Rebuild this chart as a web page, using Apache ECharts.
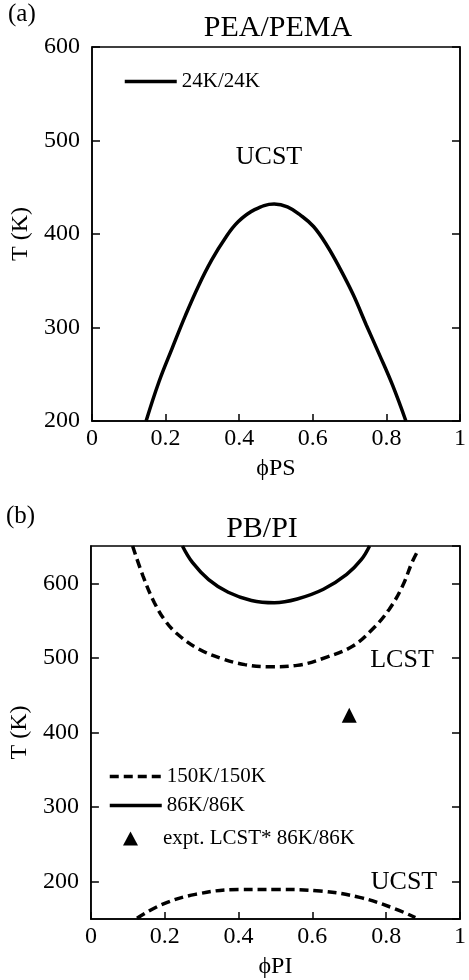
<!DOCTYPE html>
<html>
<head>
<meta charset="utf-8">
<script src="https://cdn.jsdelivr.net/npm/echarts@6/dist/echarts.min.js"></script>
<style>
  html, body { margin: 0; padding: 0; background: #fff; }
  #chart { width: 469px; height: 980px; }
</style>
</head>
<body>
<div id="chart"></div>
<script>
// (a) PEA/PEMA, 24K/24K: UCST binodal
const phiPS = [0.147, 0.182, 0.218, 0.254, 0.29, 0.325, 0.361, 0.397, 0.442, 0.495, 0.531, 0.567, 0.602, 0.638, 0.674, 0.71, 0.745, 0.781, 0.817, 0.853];
const tPEA  = [200, 242, 278, 313, 345, 372, 395, 413, 426, 432, 429, 420, 408, 388, 363, 335, 303, 271, 238, 200];

// (b) PB/PI, 86K/86K: LCST branch
const phiPI86 = [0.248, 0.275, 0.319, 0.372, 0.435, 0.497, 0.559, 0.63, 0.693, 0.733, 0.755];
const tPI86   = [650, 628, 605, 588, 577, 574, 579, 592, 612, 632, 650];

// (b) PB/PI, 150K/150K: LCST branch
const phiPI150L = [0.113, 0.141, 0.172, 0.204, 0.239, 0.292, 0.355, 0.417, 0.488, 0.559, 0.639, 0.71, 0.764, 0.808, 0.844, 0.87, 0.883];
const tPI150L   = [650, 610, 574, 548, 530, 512, 499, 491, 488, 490, 501, 516, 539, 565, 596, 628, 641];

// (b) PB/PI, 150K/150K: UCST branch
const phiPI150U = [0.125, 0.195, 0.283, 0.399, 0.506, 0.621, 0.728, 0.817, 0.879];
const tPI150U   = [151, 170, 183, 189.5, 189.5, 187.5, 179, 165, 152];

// (b) experimental LCST, 86K/86K
const exptPhi = [0.7];
const exptT   = [423];

const FONT = 'Liberation Serif';
const zip = (xs, ys) => xs.map((x, i) => [x, ys[i]]);

const chart = echarts.init(document.getElementById('chart'), null, { renderer: 'canvas' });

const axisLineStyle = { color: '#000', width: 1.5 };

function xAxis(gridIndex, name) {
  return {
    gridIndex, type: 'value', min: 0, max: 1, interval: 0.2,
    axisLine: { show: true, lineStyle: axisLineStyle },
    axisTick: { show: true, inside: true, length: 7, lineStyle: axisLineStyle },
    axisLabel: {
      color: '#000', fontFamily: FONT, fontSize: 24, margin: 6,
      formatter: v => String(+v.toFixed(1))
    },
    splitLine: { show: false },
    name, nameLocation: 'middle', nameGap: 36,
    nameTextStyle: { color: '#000', fontFamily: FONT, fontSize: 24 }
  };
}

function yAxis(gridIndex, min, max, opts) {
  return Object.assign({
    gridIndex, type: 'value', min, max,
    axisLine: { show: true, onZero: false, lineStyle: axisLineStyle },
    axisTick: { show: true, inside: true, length: 8, lineStyle: axisLineStyle },
    axisLabel: { color: '#000', fontFamily: FONT, fontSize: 24, margin: 12 },
    splitLine: { show: false },
    name: 'T (K)', nameLocation: 'middle', nameGap: 54,
    nameTextStyle: { color: '#000', fontFamily: FONT, fontSize: 24 }
  }, opts);
}

function rightAxis(gridIndex, min, max, opts) {
  return Object.assign({
    gridIndex, type: 'value', min, max, position: 'right',
    axisLine: { show: true, onZero: false, lineStyle: axisLineStyle },
    axisTick: { show: true, inside: true, length: 8, lineStyle: axisLineStyle },
    axisLabel: { show: false },
    splitLine: { show: false }
  }, opts);
}

const legendText = { color: '#000', fontFamily: FONT, fontSize: 21 };
// line entries show only the stroke; the point marker is hidden
const lineLegend = {
  orient: 'vertical', itemWidth: 52, itemHeight: 14, itemGap: 8,
  textStyle: legendText, itemStyle: { opacity: 0 },
  lineStyle: { width: 3.5 }
};

const dashed = { color: '#000', width: 3.5, type: [9, 5] };
const solid = { color: '#000', width: 3.5 };
const SMOOTH = 0.4;

const option = {
  animation: false,
  backgroundColor: '#fff',
  grid: [
    { left: 92, top: 47, width: 373, height: 374, show: true, borderColor: '#000', borderWidth: 1.5 },
    { left: 87, top: 546, width: 375, height: 375, show: true, borderColor: '#000', borderWidth: 1.5 }
  ],
  xAxis: [xAxis(0, 'ϕPS'), xAxis(1, 'ϕPI')],
  yAxis: [
    yAxis(0, 200, 600, { interval: 100 }),
    rightAxis(0, 200, 600, { interval: 100 }),
    yAxis(1, 150, 650, { splitNumber: 5, axisLabel: { color: '#000', fontFamily: FONT, fontSize: 24, margin: 12, showMinLabel: false, showMaxLabel: false } }),
    rightAxis(1, 150, 650, { splitNumber: 5 })
  ],
  legend: [
    Object.assign({}, lineLegend, { left: 118, top: 66, data: ['24K/24K'] }),
    Object.assign({}, lineLegend, { left: 103, top: 761, data: ['150K/150K', '86K/86K'] }),
    {
      left: 118, top: 823, orient: 'vertical',
      itemWidth: 15, itemHeight: 14,
      textStyle: Object.assign({ padding: [0, 0, 0, 20] }, legendText),
      itemStyle: { color: '#000', opacity: 1 },
      data: [{ name: 'expt. LCST* 86K/86K', icon: 'triangle' }]
    }
  ],
  series: [
    {
      name: '24K/24K', type: 'line', xAxisIndex: 0, yAxisIndex: 0,
      data: zip(phiPS, tPEA), smooth: SMOOTH, symbol: 'none',
      lineStyle: solid, itemStyle: { color: '#000' }
    },
    {
      name: '150K/150K', type: 'line', xAxisIndex: 1, yAxisIndex: 2,
      data: zip(phiPI150L, tPI150L), smooth: SMOOTH, symbol: 'none',
      lineStyle: dashed, itemStyle: { color: '#000' }
    },
    {
      name: '150K/150K', type: 'line', xAxisIndex: 1, yAxisIndex: 2,
      data: zip(phiPI150U, tPI150U), smooth: SMOOTH, symbol: 'none',
      lineStyle: dashed, itemStyle: { color: '#000' }
    },
    {
      name: '86K/86K', type: 'line', xAxisIndex: 1, yAxisIndex: 2,
      data: zip(phiPI86, tPI86), smooth: SMOOTH, symbol: 'none',
      lineStyle: solid, itemStyle: { color: '#000' }
    },
    {
      name: 'expt. LCST* 86K/86K', type: 'scatter', xAxisIndex: 1, yAxisIndex: 2,
      data: zip(exptPhi, exptT), symbol: 'triangle', symbolSize: 15,
      itemStyle: { color: '#000', opacity: 1 }
    }
  ],
  graphic: [
    { type: 'text', left: 8, top: 2, style: { text: '(a)', font: `25px "${FONT}"`, fill: '#000' } },
    { type: 'text', x: 278, y: 28, style: { text: 'PEA/PEMA', font: `30px "${FONT}"`, fill: '#000', textAlign: 'center', textVerticalAlign: 'middle' } },
    { type: 'text', x: 269, y: 157, style: { text: 'UCST', font: `26px "${FONT}"`, fill: '#000', textAlign: 'center', textVerticalAlign: 'middle' } },
    { type: 'text', left: 6, top: 504, style: { text: '(b)', font: `25px "${FONT}"`, fill: '#000' } },
    { type: 'text', x: 262, y: 529, style: { text: 'PB/PI', font: `30px "${FONT}"`, fill: '#000', textAlign: 'center', textVerticalAlign: 'middle' } },
    { type: 'text', x: 402, y: 660, style: { text: 'LCST', font: `26px "${FONT}"`, fill: '#000', textAlign: 'center', textVerticalAlign: 'middle' } },
    { type: 'text', x: 404, y: 882, style: { text: 'UCST', font: `26px "${FONT}"`, fill: '#000', textAlign: 'center', textVerticalAlign: 'middle' } }
  ]
};

chart.setOption(option);
</script>
</body>
</html>
